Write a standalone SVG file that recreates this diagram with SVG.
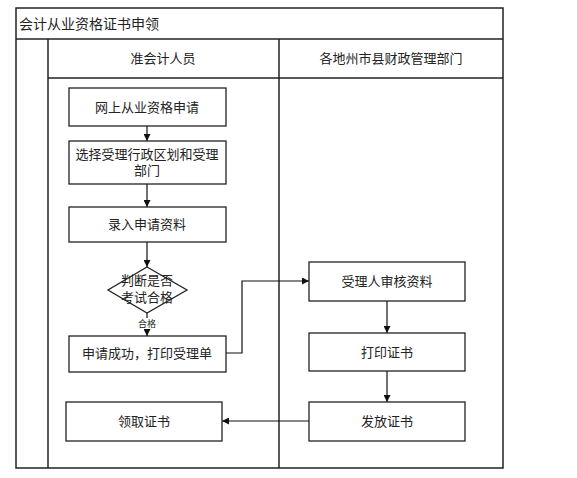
<svg xmlns="http://www.w3.org/2000/svg" width="577" height="478" viewBox="0 0 577 478">
<style>
text{font-family:"Liberation Serif","Noto Sans CJK SC",serif;fill:#222;}
.t{font-size:13px;text-anchor:middle;}
.frame{fill:none;stroke:#222;stroke-width:1.5;}
.box{fill:#fff;stroke:#222;stroke-width:1.3;}
.c{fill:none;stroke:#111;stroke-width:1.2;}
</style>
<defs>
<marker id="ah" viewBox="0 0 10 10" refX="10" refY="5" markerWidth="7" markerHeight="7" markerUnits="userSpaceOnUse" orient="auto">
<path d="M0,0L10,5L0,10z" fill="#111"/>
</marker>
</defs>
<rect width="577" height="478" fill="#fff"/>
<g id="pool">
<rect class="frame" x="16" y="8" width="487" height="460"/>
<line class="frame" x1="16" y1="39" x2="503" y2="39"/>
<line class="frame" x1="48" y1="39" x2="48" y2="468"/>
<line class="frame" x1="279" y1="39" x2="279" y2="468"/>
<line class="frame" x1="48" y1="78" x2="503" y2="78"/>
<text x="19" y="29" style="font-size:14px">会计从业资格证书申领</text>
<text class="t" x="163" y="63">准会计人员</text>
<text class="t" x="391" y="63">各地州市县财政管理部门</text>
</g>
<g id="connectors">
<line class="c" x1="147" y1="126" x2="147" y2="141" marker-end="url(#ah)"/>
<line class="c" x1="147" y1="184" x2="147" y2="207" marker-end="url(#ah)"/>
<line class="c" x1="147" y1="242" x2="147" y2="267" marker-end="url(#ah)"/>
<line class="c" x1="147" y1="313" x2="147" y2="336" marker-end="url(#ah)"/>
<polyline class="c" points="226,353 242,353 242,281 309,281" marker-end="url(#ah)"/>
<line class="c" x1="387" y1="301" x2="387" y2="333" marker-end="url(#ah)"/>
<line class="c" x1="387" y1="371" x2="387" y2="402" marker-end="url(#ah)"/>
<line class="c" x1="309" y1="421" x2="222" y2="421" marker-end="url(#ah)"/>
<rect x="137" y="318" width="20" height="11" fill="#fff"/>
<text x="147" y="327" style="font-size:9px;text-anchor:middle">合格</text>
</g>
<g id="n1"><rect class="box" x="69" y="88" width="157" height="38"/><text class="t" x="147" y="112">网上从业资格申请</text></g>
<g id="n2"><rect class="box" x="69" y="141" width="157" height="43"/><text class="t" x="147" y="159">选择受理行政区划和受理</text><text class="t" x="147" y="175">部门</text></g>
<g id="n3"><rect class="box" x="69" y="207" width="157" height="35"/><text class="t" x="147" y="229">录入申请资料</text></g>
<g id="n4"><polygon class="box" points="147,267 187,290 147,313 108,290"/><text class="t" x="147" y="285">判断是否</text><text class="t" x="147" y="302">考试合格</text></g>
<g id="n5"><rect class="box" x="69" y="336" width="157" height="36"/><text class="t" x="147" y="358">申请成功，打印受理单</text></g>
<g id="n6"><rect class="box" x="66" y="402" width="156" height="39"/><text class="t" x="144" y="426">领取证书</text></g>
<g id="n7"><rect class="box" x="309" y="262" width="156" height="39"/><text class="t" x="387" y="286">受理人审核资料</text></g>
<g id="n8"><rect class="box" x="309" y="333" width="156" height="38"/><text class="t" x="387" y="357">打印证书</text></g>
<g id="n9"><rect class="box" x="309" y="402" width="156" height="39"/><text class="t" x="387" y="426">发放证书</text></g>
</svg>
